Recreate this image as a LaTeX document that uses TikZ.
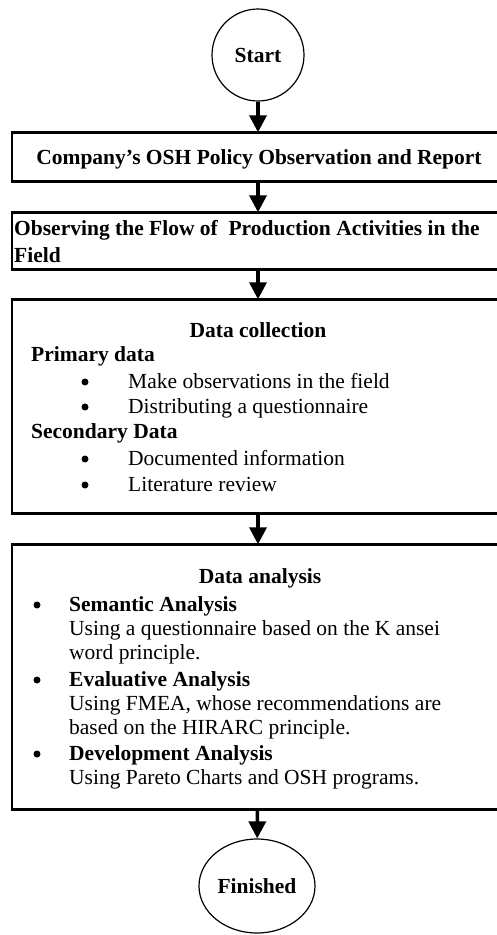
\documentclass[tikz,border=0pt]{standalone}
\usepackage{fontspec}
\setmainfont{Liberation Serif}
\usetikzlibrary{arrows.meta,shapes.geometric}

\newlength{\du}
\setlength{\du}{1pt}

\tikzset{
  flowbox/.style={rectangle, draw, line width=1.4\du, minimum width=492\du, inner sep=0pt},
  flowcircle/.style={circle, draw, line width=1.2\du, minimum size=92\du, inner sep=0pt,
    font=\fontsize{21.5}{25}\selectfont\bfseries},
  flowend/.style={ellipse, draw, line width=1.2\du, minimum width=116\du, minimum height=94\du,
    inner sep=0pt, font=\fontsize{21.5}{25}\selectfont\bfseries},
  boxtext/.style={inner sep=0pt, font=\fontsize{21.5}{25}\selectfont},
  boxhead/.style={inner sep=0pt, font=\fontsize{21.5}{25}\selectfont\bfseries},
  listdot/.style={circle, fill=black, minimum size=7\du, inner sep=0pt},
  flowline/.style={line width=3.5\du, -{Triangle[width=17pt,length=17pt]}},
  boxedge/.style={line width=3\du}
}

\begin{document}
\begin{tikzpicture}
\pgftransformxscale{1.000000}
\pgftransformyscale{-1.000000}
\useasboundingbox (0\du,0\du) rectangle (496\du,935\du);
\definecolor{dialinecolor}{rgb}{0.000000, 0.000000, 0.000000}
\pgfsetstrokecolor{dialinecolor}
\definecolor{dialinecolor}{rgb}{1.000000, 1.000000, 1.000000}
\pgfsetfillcolor{dialinecolor}
% start
\node[flowcircle] (start) at (258\du,55\du){Start};
% boxes
\node[flowbox, minimum height=48\du] (policy) at (258\du,157\du){};
\node[flowbox, minimum height=56\du] (flow) at (258\du,241\du){};
\node[flowbox, minimum height=213\du] (collect) at (258\du,406.5\du){};
\node[flowbox, minimum height=264\du] (analysis) at (258\du,677\du){};
% finish
\node[flowend] (finish) at (257\du,886\du){Finished};
\definecolor{dialinecolor}{rgb}{0.000000, 0.000000, 0.000000}
\pgfsetstrokecolor{dialinecolor}
\draw[boxedge] (policy.north west)--(policy.north east);
\draw[boxedge] (policy.south west)--(policy.south east);
\draw[boxedge] (flow.north west)--(flow.north east);
\draw[boxedge] (flow.south west)--(flow.south east);
\draw[boxedge] (collect.north west)--(collect.north east);
\draw[boxedge] (collect.south west)--(collect.south east);
\draw[boxedge] (analysis.north west)--(analysis.north east);
\draw[boxedge] (analysis.south west)--(analysis.south east);
% setfont left to latex
\node[boxhead, anchor=base] (policytext) at (259\du,164\du){Company’s OSH Policy Observation and Report};
% setfont left to latex
\node[boxhead, anchor=base west] (flowtexta) at (14\du,235\du){Observing the Flow of~ Production Activities in the};
\node[boxhead, anchor=base west] (flowtextb) at (14\du,262\du){Field};
% setfont left to latex
\node[boxhead, anchor=base] (collecthead) at (258\du,337\du){Data collection};
\node[boxhead, anchor=base west] (primary) at (31\du,361\du){Primary data};
\node[listdot] (bulleta) at (85\du,382\du){};
\node[boxtext, anchor=base west] (itema) at (128\du,388\du){Make observations in the field};
\node[listdot] (bulletb) at (85\du,407\du){};
\node[boxtext, anchor=base west] (itemb) at (128\du,413\du){Distributing a questionnaire};
\node[boxhead, anchor=base west] (secondary) at (31\du,438\du){Secondary Data};
\node[listdot] (bulletc) at (85\du,459\du){};
\node[boxtext, anchor=base west] (itemc) at (128\du,465\du){Documented information};
\node[listdot] (bulletd) at (85\du,485\du){};
\node[boxtext, anchor=base west] (itemd) at (128\du,491\du){Literature review};
% setfont left to latex
\node[boxhead, anchor=base] (analysishead) at (260\du,583\du){Data analysis};
\node[listdot] (bullete) at (37\du,605\du){};
\node[boxhead, anchor=base west] (semantic) at (69\du,611\du){Semantic Analysis};
\node[boxtext, anchor=base west] (semantica) at (69\du,635\du){Using a questionnaire based on the K ansei};
\node[boxtext, anchor=base west] (semanticb) at (69\du,659\du){word principle.};
\node[listdot] (bulletf) at (37\du,680\du){};
\node[boxhead, anchor=base west] (evaluative) at (69\du,686\du){Evaluative Analysis};
\node[boxtext, anchor=base west] (evaluativea) at (69\du,710\du){Using FMEA, whose recommendations are};
\node[boxtext, anchor=base west] (evaluativeb) at (69\du,734\du){based on the HIRARC principle.};
\node[listdot] (bulletg) at (37\du,754\du){};
\node[boxhead, anchor=base west] (development) at (69\du,760\du){Development Analysis};
\node[boxtext, anchor=base west] (developmenta) at (69\du,784\du){Using Pareto Charts and OSH programs.};
% arrows
\definecolor{dialinecolor}{rgb}{0.000000, 0.000000, 0.000000}
\pgfsetfillcolor{dialinecolor}
\draw[flowline] (start)--(policy);
\draw[flowline] (policy)--(flow);
\draw[flowline] (flow)--(collect);
\draw[flowline] (collect)--(analysis);
\draw[flowline] (analysis)--(finish);
\end{tikzpicture}
\end{document}
